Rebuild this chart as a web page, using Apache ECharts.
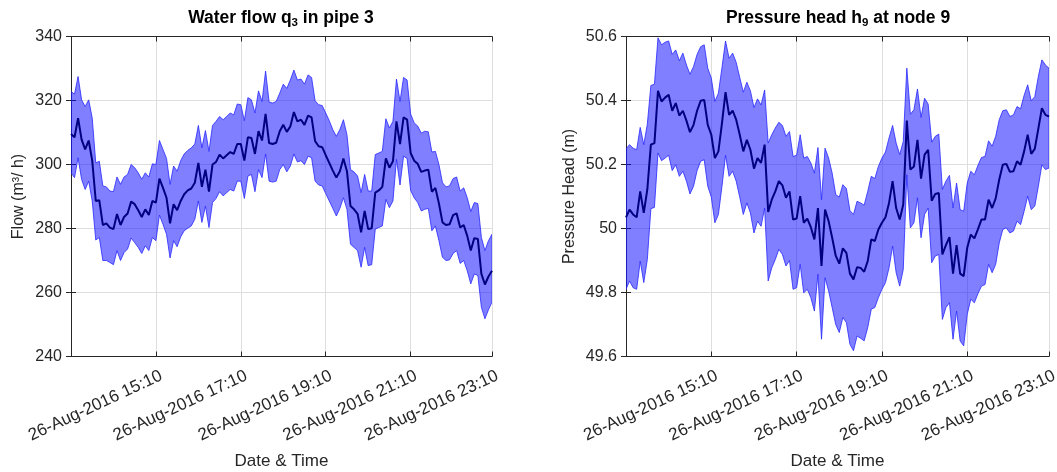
<!DOCTYPE html>
<html><head><meta charset="utf-8">
<script src="https://cdn.jsdelivr.net/npm/echarts@6/dist/echarts.min.js"></script>
<style>html,body{margin:0;padding:0;background:#fff}#c{width:1057px;height:472px}</style>
</head><body><div id="c"></div>
<script>
// minutes after 26-Aug-2016 13:10 (5-minute samples)
const minutes = [0,5,10,15,20,25,30,35,40,45,50,55,60,65,70,75,80,85,90,95,
100,105,110,115,120,125,130,135,140,145,150,155,160,165,170,175,180,185,190,195,
200,205,210,215,220,225,230,235,240,245,250,255,260,265,270,275,280,285,290,295,
300,305,310,315,320,325,330,335,340,345,350,355,360,365,370,375,380,385,390,395,
400,405,410,415,420,425,430,435,440,445,450,455,460,465,470,475,480,485,490,495,
500,505,510,515,520,525,530,535,540,545,550,555,560,565,570,575,580,585,590,595];

const xTickMinutes = [120,240,360,480,595];
const xTickLabels = ['26-Aug-2016 15:10','26-Aug-2016 17:10','26-Aug-2016 19:10','26-Aug-2016 21:10','26-Aug-2016 23:10'];

const q3Mean = [309.5,308.5,314.5,307.8,304.7,307.5,301.2,288.6,288.8,281.1,
281.6,280.3,279.8,284.5,281.1,283.6,284.7,288.4,287.6,285.7,
283.6,286.0,284.2,288.6,288.1,295.6,292.7,289.6,281.6,287.6,
285.7,288.6,290.7,291.9,292.5,294.3,300.5,293.0,298.4,291.5,
300.0,300.8,303.1,301.9,302.9,303.9,303.3,306.4,306.4,301.2,
308.5,308.3,303.3,310.4,307.5,315.8,306.7,306.4,306.8,310.4,
312.4,310.2,311.9,316.4,313.5,314.0,312.4,315.3,314.7,307.3,
305.7,305.4,302.9,300.5,298.1,295.9,297.9,301.9,297.9,287.0,
286.0,284.6,278.8,285.5,279.8,280.1,291.2,291.9,293.0,301.9,
299.0,301.0,313.5,306.4,314.7,314.0,303.6,301.2,300.2,297.7,
298.1,298.4,291.5,292.7,287.8,281.9,281.1,281.3,284.2,284.7,
280.3,281.1,277.7,273.1,277.0,276.7,265.8,262.5,265.0,266.8];

const q3Upper = [322.8,322.0,327.5,320.2,318.1,320.2,314.5,300.5,301.0,293.3,
293.0,291.7,291.5,296.1,293.8,296.1,296.9,300.0,299.0,297.4,
295.4,297.4,296.1,300.2,300.0,307.5,304.7,301.9,293.8,299.5,
297.9,301.2,303.3,304.4,305.2,306.4,312.2,305.2,310.6,304.1,
312.2,313.5,315.0,314.0,315.0,316.1,315.5,318.9,318.7,313.7,
320.9,320.2,316.1,323.0,319.7,329.2,319.5,319.2,319.7,322.3,
325.1,323.8,326.4,329.5,326.4,326.7,325.1,328.0,327.2,319.9,
318.7,318.4,316.1,313.7,310.9,308.8,310.9,314.0,309.3,298.4,
297.7,296.4,291.2,296.9,291.7,291.7,303.1,303.6,304.1,314.3,
311.4,313.5,326.7,319.7,327.2,326.4,315.8,313.0,312.0,309.8,
310.4,310.2,303.9,304.1,300.0,294.3,293.0,293.3,295.6,296.1,
291.7,292.7,289.6,285.3,288.1,287.8,277.2,273.1,276.2,278.2];

const q3Lower = [297.4,295.9,302.1,295.3,292.2,294.8,288.6,276.4,277.2,270.0,
270.0,269.4,268.7,273.1,270.0,272.5,273.6,277.0,275.6,274.1,
272.2,274.6,273.1,277.2,276.2,284.2,281.3,278.2,270.8,276.2,
274.3,277.4,279.3,280.1,280.8,282.9,288.6,281.9,287.0,280.3,
288.1,289.4,291.5,290.2,291.2,292.2,291.7,294.8,294.8,289.4,
296.4,296.9,291.5,298.4,295.9,303.3,294.8,294.5,294.8,298.4,
300.0,297.7,299.5,303.3,300.8,301.2,300.0,302.6,302.1,294.8,
293.6,293.3,290.9,288.6,286.3,283.9,286.3,289.6,286.0,275.1,
274.1,273.1,267.9,274.1,268.4,268.7,279.8,280.3,280.8,289.1,
286.5,288.6,301.6,293.6,302.6,301.9,291.9,289.6,288.1,285.5,
286.0,286.3,279.3,280.8,276.2,271.0,270.0,270.2,272.2,273.1,
269.1,270.0,266.8,262.7,265.8,265.3,255.4,251.8,254.6,257.0];

const h9Mean = [50.035,50.059,50.044,50.035,50.116,50.049,50.122,50.262,50.267,50.430,
50.397,50.409,50.418,50.368,50.392,50.353,50.368,50.337,50.301,50.324,
50.368,50.399,50.402,50.324,50.293,50.220,50.241,50.329,50.426,50.355,
50.368,50.340,50.293,50.241,50.277,50.246,50.187,50.220,50.205,50.262,
50.052,50.090,50.116,50.148,50.135,50.096,50.116,50.028,50.031,50.101,
50.018,50.031,50.004,49.966,50.064,49.883,50.059,50.023,49.971,49.915,
49.890,49.938,49.924,49.859,49.841,49.879,49.877,49.865,49.898,49.966,
49.961,49.997,50.018,50.035,50.080,50.148,50.064,50.028,50.075,50.337,
50.184,50.194,50.277,50.156,50.231,50.246,50.087,50.108,50.111,49.919,
49.948,49.973,49.859,49.948,49.859,49.851,49.940,49.981,49.969,49.997,
50.028,50.028,50.090,50.064,50.094,50.153,50.199,50.202,50.177,50.179,
50.210,50.199,50.241,50.293,50.233,50.249,50.312,50.376,50.355,50.350];

const h9Upper = [50.249,50.262,50.251,50.246,50.316,50.262,50.326,50.447,50.451,50.596,
50.574,50.582,50.586,50.544,50.558,50.524,50.548,50.511,50.482,50.506,
50.544,50.568,50.574,50.501,50.470,50.397,50.423,50.503,50.586,50.532,
50.548,50.519,50.472,50.426,50.457,50.430,50.378,50.405,50.386,50.433,
50.267,50.293,50.314,50.332,50.322,50.288,50.303,50.225,50.229,50.293,
50.220,50.225,50.205,50.173,50.253,50.090,50.251,50.220,50.173,50.106,
50.098,50.137,50.125,50.056,50.044,50.085,50.080,50.073,50.116,50.163,
50.156,50.194,50.220,50.239,50.283,50.322,50.267,50.231,50.272,50.501,
50.357,50.371,50.436,50.347,50.407,50.389,50.270,50.288,50.295,50.122,
50.148,50.166,50.064,50.142,50.059,50.054,50.142,50.179,50.168,50.197,
50.222,50.225,50.274,50.257,50.288,50.340,50.368,50.371,50.350,50.355,
50.381,50.374,50.416,50.449,50.399,50.412,50.475,50.527,50.511,50.501];

const h9Lower = [49.810,49.836,49.815,49.810,49.898,49.831,49.903,50.062,50.066,50.236,
50.212,50.220,50.229,50.181,50.199,50.163,50.179,50.148,50.108,50.132,
50.181,50.210,50.215,50.132,50.098,50.018,50.044,50.132,50.229,50.163,
50.179,50.148,50.098,50.044,50.080,50.049,49.986,50.023,50.007,50.064,
49.836,49.877,49.903,49.935,49.919,49.883,49.900,49.810,49.815,49.888,
49.799,49.810,49.784,49.742,49.857,49.654,49.846,49.805,49.753,49.700,
49.675,49.722,49.706,49.638,49.618,49.664,49.657,49.649,49.690,49.748,
49.753,49.784,49.810,49.831,49.877,49.945,49.862,49.820,49.872,50.168,
50.002,50.018,50.096,49.971,50.044,50.064,49.893,49.914,49.919,49.716,
49.753,49.768,49.654,49.742,49.649,49.633,49.732,49.779,49.768,49.796,
49.820,49.825,49.888,49.862,49.888,49.955,49.997,50.002,49.986,49.992,
50.023,50.012,50.054,50.101,50.059,50.070,50.132,50.199,50.184,50.189];

const FONT = "'Liberation Sans', Arial, Helvetica, sans-serif";
const AX = '#262626';
const GRIDC = '#dedede';

const chart = echarts.init(document.getElementById('c'), null, {renderer: 'canvas'});

const grids = [
  {left: 71, top: 36.5, width: 421, height: 320, outerBoundsMode: 'none', containLabel: false},
  {left: 626, top: 36.5, width: 423, height: 320, outerBoundsMode: 'none', containLabel: false}
];
const yDefs = [
  {min: 240, max: 340, interval: 20, name: 'Flow (m³/ h)', nameGap: 44},
  {min: 49.6, max: 50.6, interval: 0.2, name: 'Pressure Head (m)', nameGap: 48}
];

const xAxis = [], yAxis = [], series = [];
const sets = [[q3Mean, q3Upper, q3Lower], [h9Mean, h9Upper, h9Lower]];

function bandRenderer(up, lo) {
  return function (params, api) {
    if (params.dataIndex !== 0) return null;
    const pts = [];
    for (let i = 0; i < minutes.length; i++) pts.push(api.coord([minutes[i], up[i]]));
    for (let i = minutes.length - 1; i >= 0; i--) pts.push(api.coord([minutes[i], lo[i]]));
    return {
      type: 'polygon',
      shape: {points: pts},
      style: {fill: 'rgba(0,0,255,0.5)', stroke: 'rgba(40,40,255,0.8)', lineWidth: 1}
    };
  };
}

grids.forEach((g, gi) => {
  xAxis.push({
    type: 'value', gridIndex: gi, min: 0, max: 595, interval: 120,
    axisLine: {show: true, lineStyle: {color: AX, width: 1}},
    axisTick: {show: true, inside: true, length: 5, lineStyle: {color: AX}},
    axisLabel: {
      rotate: 25, fontSize: 17, fontFamily: FONT, color: AX, margin: 21,
      padding: [0, -6, 0, 0],
      showMinLabel: false, showMaxLabel: true,
      formatter: v => { const k = xTickMinutes.indexOf(v); return k >= 0 ? xTickLabels[k] : ''; }
    },
    splitLine: {show: true, lineStyle: {color: GRIDC, width: 1}},
    name: 'Date & Time', nameLocation: 'middle', nameGap: 96,
    nameTextStyle: {fontSize: 17, fontFamily: FONT, color: AX}
  });
  xAxis.push({
    type: 'value', gridIndex: gi, position: 'top', min: 0, max: 595, interval: 120,
    axisLine: {show: true, lineStyle: {color: AX, width: 1}},
    axisTick: {show: true, inside: true, length: 5, lineStyle: {color: AX}},
    axisLabel: {show: false}, splitLine: {show: false}
  });
  const yd = yDefs[gi];
  yAxis.push({
    type: 'value', gridIndex: gi, min: yd.min, max: yd.max, interval: yd.interval,
    axisLine: {show: true, lineStyle: {color: AX, width: 1}},
    axisTick: {show: true, inside: true, length: 5, lineStyle: {color: AX}},
    axisLabel: {fontSize: 16, fontFamily: FONT, color: AX, margin: 9},
    splitLine: {show: true, lineStyle: {color: GRIDC, width: 1}},
    name: yd.name, nameLocation: 'middle', nameGap: yd.nameGap,
    nameTextStyle: {fontSize: 16, fontFamily: FONT, color: AX}
  });
  yAxis.push({
    type: 'value', gridIndex: gi, position: 'right', min: yd.min, max: yd.max, interval: yd.interval,
    axisLine: {show: true, lineStyle: {color: AX, width: 1}},
    axisTick: {show: true, inside: true, length: 5, lineStyle: {color: AX}},
    axisLabel: {show: false}, splitLine: {show: false}
  });
  const [mean, up, lo] = sets[gi];
  const xi = gi * 2, yi = gi * 2;
  series.push({
    type: 'custom', xAxisIndex: xi, yAxisIndex: yi, clip: true, silent: true, z: 2,
    data: minutes.map((m, i) => [m, lo[i], up[i]]),
    encode: {x: 0, y: [1, 2]},
    renderItem: bandRenderer(up, lo)
  });
  series.push({
    type: 'line', xAxisIndex: xi, yAxisIndex: yi, symbol: 'none',
    data: minutes.map((m, i) => [m, mean[i]]),
    lineStyle: {color: '#000080', width: 2}, z: 3, silent: true
  });
});

const titleRich = {
  a: {fontSize: 17.5, fontWeight: 'bold', fontFamily: FONT, color: '#000', lineHeight: 22},
  s: {fontSize: 11.5, fontWeight: 'bold', fontFamily: FONT, color: '#000', lineHeight: 22, verticalAlign: 'bottom', padding: [10, 0, 0, 0]}
};

chart.setOption({
  animation: false,
  backgroundColor: '#fff',
  title: [
    {text: '{a|Water flow q}{s|3}{a| in pipe 3}', left: 276, top: 2, textAlign: 'center', textStyle: {rich: titleRich}},
    {text: '{a|Pressure head h}{s|9}{a| at node 9}', left: 833, top: 2, textAlign: 'center', textStyle: {rich: titleRich}}
  ],
  grid: grids,
  xAxis: xAxis,
  yAxis: yAxis,
  series: series
});
</script>
</body></html>
